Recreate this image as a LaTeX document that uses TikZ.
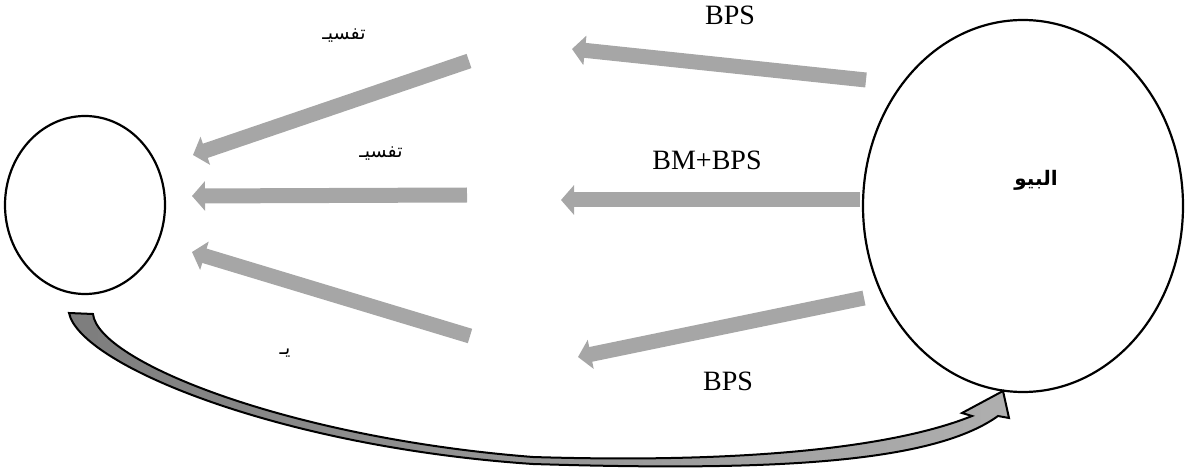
\documentclass[tikz,border=0pt]{standalone}
\usepackage{fontspec}
\setmainfont{Liberation Serif}
\newfontfamily\arabicfont[Script=Arabic]{DejaVu Sans}
\TeXXeTstate=1
\usetikzlibrary{arrows.meta,shapes.geometric}
\definecolor{arrgray}{RGB}{166,166,166}
\definecolor{taildark}{RGB}{125,125,125}
\definecolor{taillight}{RGB}{175,175,175}
\begin{document}
\begin{tikzpicture}[x=1pt,y=-1pt,
  circ/.style={draw=black, line width=2.2pt, ellipse, inner sep=0pt},
  garrow/.style={draw=arrgray, line width=15pt, -{Triangle[length=13pt,width=29pt]}},
  latinlbl/.style={font=\fontsize{28}{30}\selectfont, anchor=base, inner sep=0pt},
  arlbl/.style={font=\arabicfont\fontsize{19}{22}\selectfont, inner sep=0pt},
  arbold/.style={font=\arabicfont\bfseries\fontsize{20}{24}\selectfont, inner sep=0pt}
]
\useasboundingbox (0,0) rectangle (1191,470);

% circles
\node[circ, minimum width=160pt, minimum height=178pt] (left) at (85,205) {};
\node[circ, minimum width=320pt, minimum height=372pt] (right) at (1023,206) {};
\node[arbold] (bio) at (1036,180) {\beginR البيو\endR};

% arrow end points
\coordinate (a1s) at (866,80);  \coordinate (a1e) at (572,49);
\coordinate (a2s) at (860,200); \coordinate (a2e) at (561,200);
\coordinate (a3s) at (864,298); \coordinate (a3e) at (578,357);
\coordinate (l1s) at (469,61);  \coordinate (l1e) at (193,155);
\coordinate (l2s) at (467,195); \coordinate (l2e) at (192,196);
\coordinate (l3s) at (470,336); \coordinate (l3e) at (192,252);

\draw[garrow] (a1s) -- (a1e);
\draw[garrow] (a2s) -- (a2e);
\draw[garrow] (a3s) -- (a3e);
\draw[garrow] (l1s) -- (l1e);
\draw[garrow] (l2s) -- (l2e);
\draw[garrow] (l3s) -- (l3e);

% labels
\node[latinlbl] (bps1) at (730,25) {BPS};
\node[latinlbl] (bmbps) at (707,170) {BM+BPS};
\node[latinlbl] (bps2) at (728,390) {BPS};
\node[arlbl] (taf1) at (344,36) {\beginR تفسيـ\endR};
\node[arlbl] (taf2) at (381,154) {\beginR تفسيـ\endR};
\node[arlbl] (ya) at (285,353) {\beginR يـ\endR};

% curved arrow from left circle to right circle
\coordinate (ctip) at (1003,391);
\path[left color=taildark, right color=taillight, draw=black, line width=2pt, line join=miter]
  (69,313) -- (93,314)
  .. controls (98,362) and (290,438) .. (533,457)
  .. controls (760,464) and (900,445) .. (972,416)
  -- (962,413) -- (ctip) -- (1009,418) -- (998,416)
  .. controls (930,465) and (760,471) .. (533,464)
  .. controls (280,447) and (80,365) .. (69,313) -- cycle;
\end{tikzpicture}
\end{document}
